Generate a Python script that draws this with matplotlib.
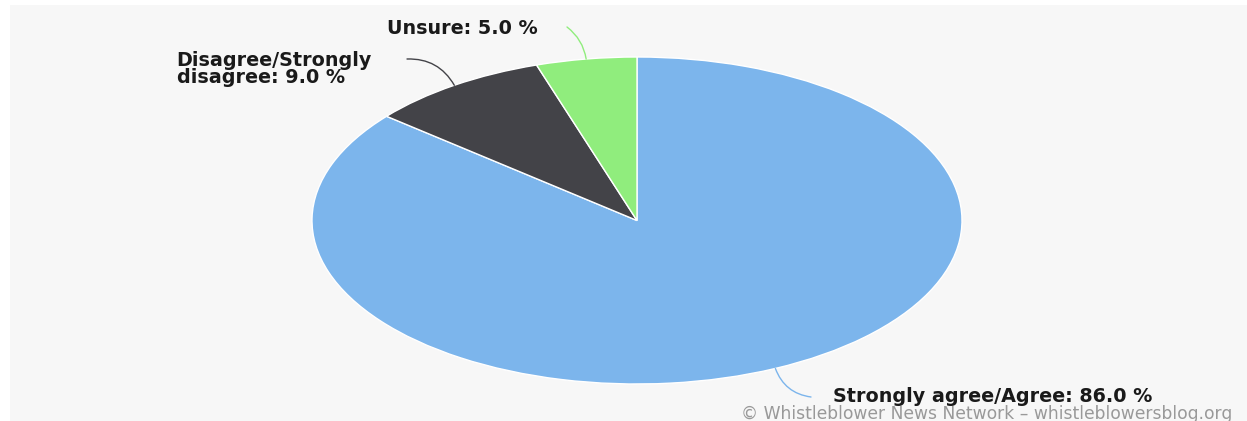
import numpy as np
import matplotlib
matplotlib.use("Agg")
import matplotlib.pyplot as plt
from matplotlib.patches import Rectangle

# data
labels = ["Strongly agree/Agree", "Disagree/Strongly\ndisagree", "Unsure"]
values = [86.0, 9.0, 5.0]
colors = ["#7cb5ec", "#434348", "#90ed7d"]
watermark = "\u00a9 Whistleblower News Network \u2013 whistleblowersblog.org"

W, H = 1247, 421
fig = plt.figure(figsize=(W / 100, H / 100), dpi=100, facecolor="white")

# light grey plot background
fig.patches.append(Rectangle((10 / W, 0), (W - 10) / W, (H - 5) / H,
                             transform=fig.transFigure, facecolor="#f7f7f7",
                             edgecolor="none", zorder=-5))

# pie is squashed into an ellipse: axes box = bounding box of the ellipse
cx, cy, rx, ry = 637, 220.5, 325, 163.5
ax = fig.add_axes([(cx - rx) / W, (H - cy - ry) / H, 2 * rx / W, 2 * ry / H])
ax.set_zorder(2)
wedges, _ = ax.pie(values, colors=colors, startangle=90, counterclock=False,
                   radius=1, wedgeprops=dict(edgecolor="white", linewidth=1))
ax.set_xlim(-1, 1)
ax.set_ylim(-1, 1)
ax.set_aspect("auto")
ax.axis("off")

# label layout (image pixels, y from top)
text_pos = [(833, 397, "left"), (372, 69, "right"), (538, 29, "right")]
conn_end = [(811, 397), (407, 59), (567, 27)]
conn_rad = [-0.3, -0.3, -0.2]

total = sum(values)
cum = 0
for i, v in enumerate(values):
    mid = (cum + v / 2) / total * 2 * np.pi
    cum += v
    pt = (np.sin(mid), np.cos(mid))
    ex, ey = conn_end[i]
    ax.annotate("", xy=pt, xycoords="data", xytext=(ex, H - ey),
                textcoords="figure pixels",
                arrowprops=dict(arrowstyle="-", color=colors[i], lw=1,
                                shrinkA=0, shrinkB=0,
                                connectionstyle=f"arc3,rad={conn_rad[i]}"),
                annotation_clip=False)
    tx, ty, ha = text_pos[i]
    fig.text(tx / W, (H - ty) / H, f"{labels[i]}: {v:.1f} %", ha=ha, va="center",
             multialignment="left", fontsize=13.8, fontweight="bold",
             color="#1a1a1a", linespacing=0.9)

fig.text(1232 / W, (H - 414) / H, watermark, ha="right", va="center",
         fontsize=12.3, color="#999999")

fig.savefig("out.png", dpi=100, facecolor="white")
